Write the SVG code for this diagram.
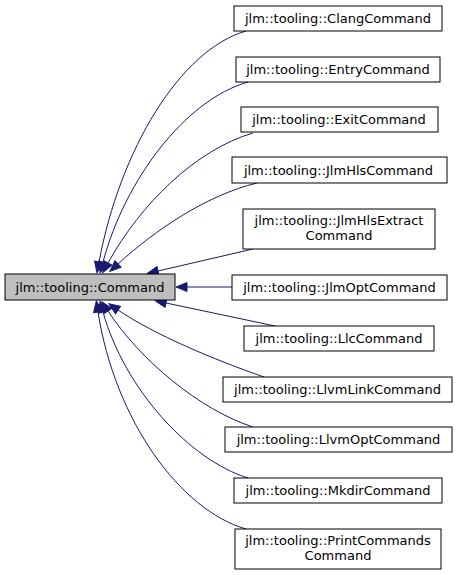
<svg xmlns="http://www.w3.org/2000/svg" width="460" height="575" viewBox="0 0 460 575">
<style>
  .node rect { fill: #ffffff; stroke: #000000; stroke-width: 1; }
  .base rect { fill: #bfbfbf; }
  text { font-family: "DejaVu Sans", "Liberation Sans", sans-serif; font-size: 13px; fill: #000000; text-anchor: middle; }
  .edge { fill: none; stroke: #191970; stroke-width: 1; marker-end: url(#arrow); }
</style>
<defs>
  <marker id="arrow" markerUnits="userSpaceOnUse" markerWidth="14" markerHeight="12" refX="0" refY="4.5" orient="auto" viewBox="0 0 14 9" overflow="visible">
    <path d="M0,0 L11,4.5 L0,9 z" fill="#191970" stroke="#191970" stroke-width="1"/>
  </marker>
</defs>
<rect width="460" height="575" fill="#ffffff"/>
<g id="connectors">
  <path class="edge" d="M246,31 C180,50 120,150 99,262"/>
  <path class="edge" d="M248,82 C185,100 125,180 103,262"/>
  <path class="edge" d="M253,133 C195,150 140,205 108,263"/>
  <path class="edge" d="M257,183 C207,195 155,230 118,264"/>
  <path class="edge" d="M253,249 L158,271"/>
  <path class="edge" d="M232,287 L187,287"/>
  <path class="edge" d="M275,326 L166,303"/>
  <path class="edge" d="M264,377 C215,360 155,335 118,310"/>
  <path class="edge" d="M253,427 C200,410 140,360 108,311"/>
  <path class="edge" d="M248,478 C190,460 125,390 103,312"/>
  <path class="edge" d="M246,529 C180,510 115,420 98,312"/>
</g>
<g id="node_Command" class="node base">
  <rect x="5" y="274" width="170" height="26"/>
  <text x="90" y="291.5">jlm::tooling::Command</text>
</g>
<g id="node_ClangCommand" class="node">
  <rect x="234" y="6" width="208" height="25"/>
  <text x="338" y="23">jlm::tooling::ClangCommand</text>
</g>
<g id="node_EntryCommand" class="node">
  <rect x="236" y="57" width="204" height="25"/>
  <text x="338" y="74">jlm::tooling::EntryCommand</text>
</g>
<g id="node_ExitCommand" class="node">
  <rect x="241" y="107" width="197" height="25"/>
  <text x="339" y="124">jlm::tooling::ExitCommand</text>
</g>
<g id="node_JlmHlsCommand" class="node">
  <rect x="232" y="157" width="215" height="26"/>
  <text x="338.5" y="174.5">jlm::tooling::JlmHlsCommand</text>
</g>
<g id="node_JlmHlsExtractCommand" class="node">
  <rect x="243" y="209" width="192" height="40"/>
  <text x="339" y="225">jlm::tooling::JlmHlsExtract</text>
  <text x="339" y="240">Command</text>
</g>
<g id="node_JlmOptCommand" class="node">
  <rect x="232" y="275" width="215" height="25"/>
  <text x="339.5" y="292">jlm::tooling::JlmOptCommand</text>
</g>
<g id="node_LlcCommand" class="node">
  <rect x="244" y="326" width="190" height="25"/>
  <text x="339" y="343">jlm::tooling::LlcCommand</text>
</g>
<g id="node_LlvmLinkCommand" class="node">
  <rect x="223" y="377" width="229" height="25"/>
  <text x="337.5" y="394">jlm::tooling::LlvmLinkCommand</text>
</g>
<g id="node_LlvmOptCommand" class="node">
  <rect x="225" y="427" width="227" height="25"/>
  <text x="338.5" y="444">jlm::tooling::LlvmOptCommand</text>
</g>
<g id="node_MkdirCommand" class="node">
  <rect x="234" y="478" width="208" height="25"/>
  <text x="338" y="495">jlm::tooling::MkdirCommand</text>
</g>
<g id="node_PrintCommandsCommand" class="node">
  <rect x="235" y="529" width="206" height="40"/>
  <text x="338" y="545">jlm::tooling::PrintCommands</text>
  <text x="338" y="560">Command</text>
</g>
</svg>
